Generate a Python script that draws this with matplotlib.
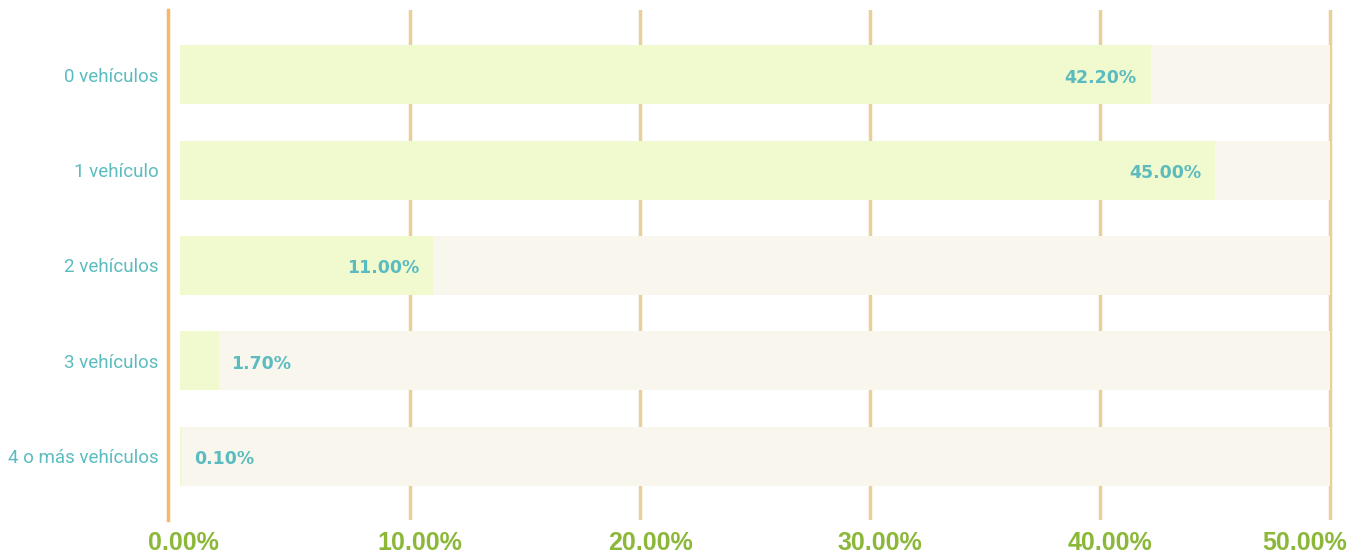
import matplotlib.pyplot as plt
import matplotlib.transforms as mtransforms

categories = ['0 vehículos', '1 vehículo', '2 vehículos', '3 vehículos', '4 o más vehículos']
shares = [42.2, 45.0, 11.0, 1.7, 0.1]
track_max = 50
ticks = [0, 10, 20, 30, 40, 50]

teal = '#5bbcbf'
green = '#8cb83a'

fig = plt.figure(figsize=(13.59, 5.55), dpi=100)
ax = fig.add_axes([168 / 1359, 35 / 555, 1172 / 1359, 510 / 555])

ypos = list(range(len(categories)))
ax.barh(ypos, [track_max] * len(categories), height=0.62, color='#f9f6ee', zorder=2)
ax.barh(ypos, shares, height=0.62, color='#f1f9cf', zorder=3)

for t in ticks[1:]:
    ax.axvline(t, color='#e9cf98', lw=2.5, zorder=1)

ax.set_xlim(-0.52, 50.43)
ax.set_ylim(4.67, -0.68)

for i, v in enumerate(shares):
    txt = '%.2f%%' % v
    if v > 5:
        off = mtransforms.offset_copy(ax.transData, fig=fig, x=-14, y=-3, units='dots')
        ax.text(v, i, txt, transform=off, ha='right', va='center', color=teal,
                fontsize=12.5, fontweight='bold', family='DejaVu Sans', zorder=4)
    else:
        off = mtransforms.offset_copy(ax.transData, fig=fig, x=12, y=-3, units='dots')
        ax.text(v, i, txt, transform=off, ha='left', va='center', color=teal,
                fontsize=12.5, fontweight='bold', family='DejaVu Sans', zorder=4)

ax.set_yticks(ypos)
ax.set_yticklabels(categories, color=teal, fontsize=13.5, family='Roboto')
ax.tick_params(axis='y', length=0, pad=7)

ax.set_xticks(ticks)
ax.set_xticklabels(['%.2f%%' % t for t in ticks], color=green, fontsize=18,
                   fontweight='bold', family='Liberation Sans')
ax.tick_params(axis='x', length=0, pad=8)
for j, lab in enumerate(ax.get_xticklabels()):
    dx = 10 if j < len(ticks) - 1 else -25
    if j == 0:
        dx = 3
    lab.set_transform(lab.get_transform() + mtransforms.ScaledTranslation(dx / 100, 0, fig.dpi_scale_trans))

for s in ['top', 'right', 'bottom']:
    ax.spines[s].set_visible(False)
ax.spines['left'].set_color('#f5b76a')
ax.spines['left'].set_linewidth(2.5)

fig.savefig('out.png', dpi=100)
